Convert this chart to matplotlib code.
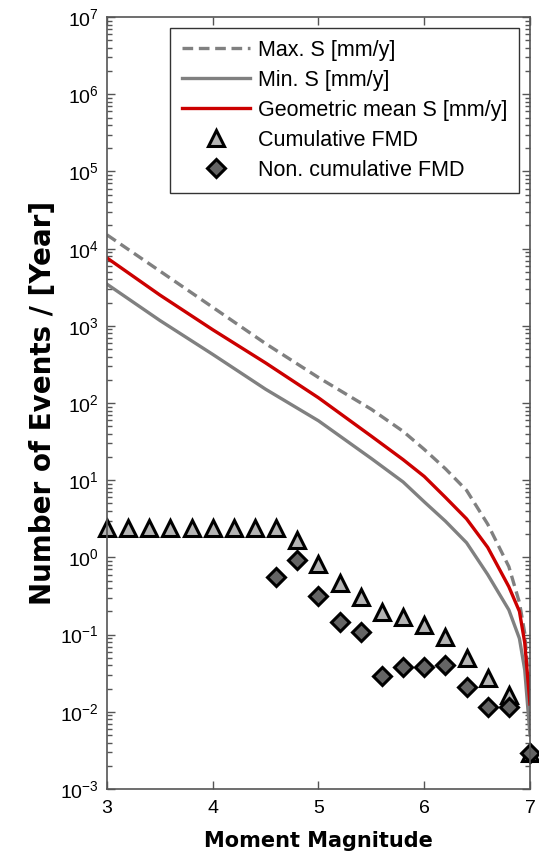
import numpy as np
import matplotlib
matplotlib.use("Agg")
import matplotlib.pyplot as plt
from matplotlib.ticker import LogLocator, NullFormatter, FixedLocator

plt.rcParams["font.family"] = ["Liberation Sans", "DejaVu Sans"]
plt.rcParams["mathtext.fontset"] = "custom"
plt.rcParams["mathtext.rm"] = "Liberation Sans"
plt.rcParams["mathtext.it"] = "Liberation Sans"
plt.rcParams["axes.unicode_minus"] = False

# magnitudes where the rate curves were read
m_curve = [3.0, 3.5, 4.0, 4.5, 5.0, 5.5, 5.8, 6.0, 6.2, 6.4, 6.6, 6.8, 6.9, 6.95, 7.0]
s_max = [15100, 5130, 1740, 589, 214, 83, 43, 25.1, 14.1, 7.4, 2.7, 0.76, 0.26, 0.105, 0.014]
s_geo = [7590, 2510, 891, 331, 117, 37.2, 18.5, 11.2, 6.0, 3.16, 1.35, 0.417, 0.20, 0.079, 0.0126]
s_min = [3470, 1175, 427, 151, 58.9, 19.1, 9.5, 5.25, 2.95, 1.55, 0.60, 0.209, 0.089, 0.035, 0.005]

# frequency-magnitude distribution
m_cum = [3.0, 3.2, 3.4, 3.6, 3.8, 4.0, 4.2, 4.4, 4.6, 4.8, 5.0, 5.2, 5.4, 5.6, 5.8,
         6.0, 6.2, 6.4, 6.6, 6.8, 7.0]
n_cum = [2.4, 2.4, 2.4, 2.4, 2.4, 2.4, 2.4, 2.4, 2.4, 1.68, 0.82, 0.466, 0.307, 0.196,
         0.169, 0.133, 0.093, 0.050, 0.0274, 0.0165, 0.0029]
m_non = [4.6, 4.8, 5.0, 5.2, 5.4, 5.6, 5.8, 6.0, 6.2, 6.4, 6.6, 6.8, 7.0]
n_non = [0.557, 0.925, 0.32, 0.146, 0.108, 0.029, 0.038, 0.038, 0.040, 0.021, 0.0115,
         0.0115, 0.0029]

fig = plt.figure(figsize=(5.39, 8.56), dpi=100)
ax = fig.add_axes([0.1985, 0.0783, 0.7848, 0.9017])

ax.plot(m_curve, s_max, "--", color="#808080", lw=2.4, dashes=(3.2, 1.7), label="Max. S [mm/y]")
ax.plot(m_curve, s_min, "-", color="#808080", lw=2.4, label="Min. S [mm/y]")
ax.plot(m_curve, s_geo, "-", color="#cc0000", lw=2.4, label="Geometric mean S [mm/y]")
ax.plot(m_cum, n_cum, "^", ms=11, mfc="#b4b4b4", mec="black", mew=2.2,
        label="Cumulative FMD", clip_on=False)
ax.plot(m_non, n_non, "D", ms=9.5, mfc="#646464", mec="black", mew=2.2,
        label="Non. cumulative FMD", clip_on=False)

ax.set_yscale("log")
ax.set_xlim(3, 7)
ax.set_ylim(1e-3, 1e7)
ax.xaxis.set_major_locator(FixedLocator([3, 4, 5, 6, 7]))
ax.yaxis.set_major_locator(LogLocator(base=10, numticks=20))
ax.yaxis.set_minor_locator(LogLocator(base=10, subs=np.arange(2, 10), numticks=20))
ax.yaxis.set_minor_formatter(NullFormatter())

ax.tick_params(which="both", direction="in", top=True, right=True, colors="#555555",
               labelcolor="black", labelsize=14)
ax.tick_params(which="major", length=6, width=1)
ax.tick_params(which="minor", length=3.5, width=1)
ax.tick_params(axis="x", pad=8)
ax.tick_params(axis="y", pad=6)
for sp in ax.spines.values():
    sp.set_color("#555555")
    sp.set_linewidth(1.2)

ax.set_xlabel("Moment Magnitude", fontsize=15, fontweight="bold", family="DejaVu Sans",
              labelpad=10)
ax.set_ylabel("Number of Events / [Year]", fontsize=20, fontweight="bold",
              family="DejaVu Sans", labelpad=2)

leg = ax.legend(loc="upper right", bbox_to_anchor=(0.974, 0.986), borderaxespad=0,
                fontsize=15.5, handlelength=3.15, frameon=True, fancybox=False,
                edgecolor="black", borderpad=0.55, labelspacing=0.42, handletextpad=0.37)
leg.get_frame().set_linewidth(1.0)

fig.savefig("out.png", dpi=100)
